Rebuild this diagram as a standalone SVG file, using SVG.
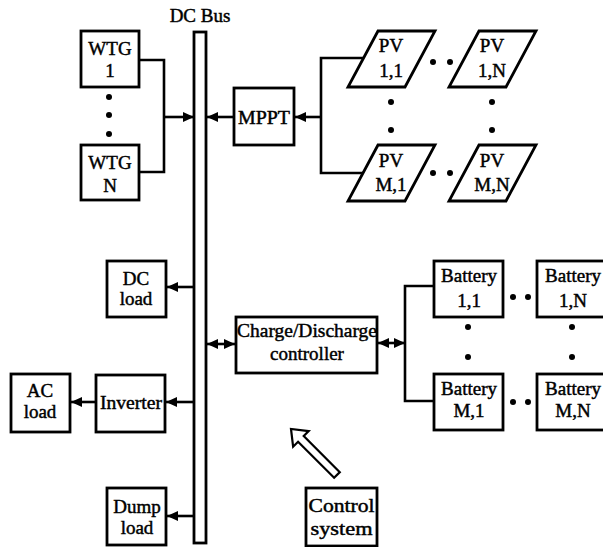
<svg xmlns="http://www.w3.org/2000/svg" width="603" height="547" viewBox="0 0 603 547">
<style>
.box{fill:#fff;stroke:#000;stroke-width:2.8}
.ln{fill:none;stroke:#000;stroke-width:2.6}
.t{font-family:"Liberation Serif","Times New Roman",serif;font-size:19px;fill:#000;stroke:#000;stroke-width:0.45;text-anchor:middle}
.dot{fill:#000}
</style>
<defs>
<marker id="ah" viewBox="0 0 11 10" refX="11" refY="5" markerWidth="11" markerHeight="10" markerUnits="userSpaceOnUse" orient="auto-start-reverse">
<path d="M0,0 L11,5 L0,10 Z" fill="#000"/>
</marker>
</defs>
<rect fill="#fff" width="603" height="547"/>

<g id="dcbus">
<rect class="box" x="194" y="32" width="12" height="511" stroke-width="2.5"/>
<text class="t" x="200" y="22">DC Bus</text>
</g>

<g id="connectors">
<polyline class="ln" points="139,60 164,60 164,172 139,172"/>
<line class="ln" x1="164" y1="117" x2="194" y2="117" marker-end="url(#ah)"/>
<line class="ln" x1="234" y1="117" x2="207" y2="117" marker-end="url(#ah)"/>
<polyline class="ln" points="363,58 321,58 321,173 363,173"/>
<line class="ln" x1="321" y1="117" x2="295" y2="117" marker-end="url(#ah)"/>
<line class="ln" x1="194" y1="287" x2="167" y2="287" marker-end="url(#ah)"/>
<line class="ln" x1="194" y1="402" x2="166" y2="402" marker-end="url(#ah)"/>
<line class="ln" x1="96" y1="402" x2="71" y2="402" marker-end="url(#ah)"/>
<line class="ln" x1="194" y1="516" x2="167" y2="516" marker-end="url(#ah)"/>
<line class="ln" x1="207" y1="344" x2="235" y2="344" marker-start="url(#ah)" marker-end="url(#ah)"/>
<line class="ln" x1="378" y1="343" x2="405" y2="343" marker-start="url(#ah)" marker-end="url(#ah)"/>
<polyline class="ln" points="434,286 405,286 405,401 434,401"/>
</g>

<g id="wtg1">
<rect class="box" x="81" y="31" width="58" height="56"/>
<text class="t" x="110" y="55">WTG</text>
<text class="t" x="110" y="77">1</text>
</g>
<g id="wtg-dots">
<circle class="dot" cx="109" cy="97" r="3"/>
<circle class="dot" cx="109" cy="115" r="3"/>
<circle class="dot" cx="109" cy="134" r="3"/>
</g>
<g id="wtgN">
<rect class="box" x="81" y="145" width="58" height="55"/>
<text class="t" x="110" y="169">WTG</text>
<text class="t" x="110" y="192">N</text>
</g>

<g id="mppt">
<rect class="box" x="234" y="88" width="60" height="57"/>
<text class="t" x="264" y="124" textLength="52" lengthAdjust="spacingAndGlyphs">MPPT</text>
</g>

<g id="pv11">
<polygon class="box" points="378,31 435,31 405,87 348,87"/>
<text class="t" x="391" y="52">PV</text>
<text class="t" x="391" y="77">1,1</text>
</g>
<g id="pv1N">
<polygon class="box" points="479,31 536,31 506,87 449,87"/>
<text class="t" x="492" y="52">PV</text>
<text class="t" x="492" y="77">1,N</text>
</g>
<g id="pvM1">
<polygon class="box" points="378,145 435,145 405,201 348,201"/>
<text class="t" x="391" y="167">PV</text>
<text class="t" x="391" y="191">M,1</text>
</g>
<g id="pvMN">
<polygon class="box" points="479,145 536,145 506,201 449,201"/>
<text class="t" x="492" y="167">PV</text>
<text class="t" x="492" y="191">M,N</text>
</g>
<g id="pv-dots">
<circle class="dot" cx="433" cy="62" r="3"/>
<circle class="dot" cx="450" cy="62" r="3"/>
<circle class="dot" cx="433" cy="173" r="3"/>
<circle class="dot" cx="450" cy="173" r="3"/>
<circle class="dot" cx="391" cy="102" r="3"/>
<circle class="dot" cx="391" cy="130" r="3"/>
<circle class="dot" cx="492" cy="102" r="3"/>
<circle class="dot" cx="492" cy="130" r="3"/>
</g>

<g id="dcload">
<rect class="box" x="107" y="261" width="59" height="56"/>
<text class="t" x="136" y="285">DC</text>
<text class="t" x="136" y="305">load</text>
</g>
<g id="inverter">
<rect class="box" x="96" y="375" width="69" height="57"/>
<text class="t" x="131" y="409" textLength="62" lengthAdjust="spacingAndGlyphs">Inverter</text>
</g>
<g id="acload">
<rect class="box" x="11" y="374" width="59" height="58"/>
<text class="t" x="40" y="397">AC</text>
<text class="t" x="40" y="418">load</text>
</g>
<g id="dumpload">
<rect class="box" x="107" y="488" width="59" height="57"/>
<text class="t" x="137" y="513">Dump</text>
<text class="t" x="137" y="534">load</text>
</g>

<g id="charge">
<rect class="box" x="236" y="317" width="141" height="56"/>
<text class="t" x="307" y="337" textLength="140" lengthAdjust="spacingAndGlyphs">Charge/Discharge</text>
<text class="t" x="307" y="360">controller</text>
</g>

<g id="bat11">
<rect class="box" x="434" y="261" width="69" height="56"/>
<text class="t" x="469" y="282">Battery</text>
<text class="t" x="469" y="307">1,1</text>
</g>
<g id="bat1N">
<rect class="box" x="537" y="261" width="80" height="56"/>
<text class="t" x="573" y="282">Battery</text>
<text class="t" x="573" y="307">1,N</text>
</g>
<g id="batM1">
<rect class="box" x="434" y="374" width="69" height="56"/>
<text class="t" x="469" y="395">Battery</text>
<text class="t" x="469" y="417">M,1</text>
</g>
<g id="batMN">
<rect class="box" x="537" y="374" width="80" height="56"/>
<text class="t" x="573" y="395">Battery</text>
<text class="t" x="573" y="417">M,N</text>
</g>
<g id="bat-dots">
<circle class="dot" cx="513" cy="297" r="3"/>
<circle class="dot" cx="528" cy="297" r="3"/>
<circle class="dot" cx="513" cy="402" r="3"/>
<circle class="dot" cx="528" cy="402" r="3"/>
<circle class="dot" cx="468" cy="327" r="3"/>
<circle class="dot" cx="468" cy="357" r="3"/>
<circle class="dot" cx="572" cy="327" r="3"/>
<circle class="dot" cx="572" cy="357" r="3"/>
</g>

<g id="control">
<rect class="box" x="306" y="488" width="71" height="58"/>
<text class="t" x="341.5" y="512" textLength="66" lengthAdjust="spacingAndGlyphs">Control</text>
<text class="t" x="341.5" y="535" textLength="62" lengthAdjust="spacingAndGlyphs">system</text>
</g>
<g id="control-arrow">
<path d="M0,0 L-14,-11 L-14,-4 L-65,-4 L-65,4 L-14,4 L-14,11 Z" fill="#fff" stroke="#000" stroke-width="2.2" stroke-linejoin="miter" transform="translate(291,429) rotate(225)"/>
</g>
</svg>
